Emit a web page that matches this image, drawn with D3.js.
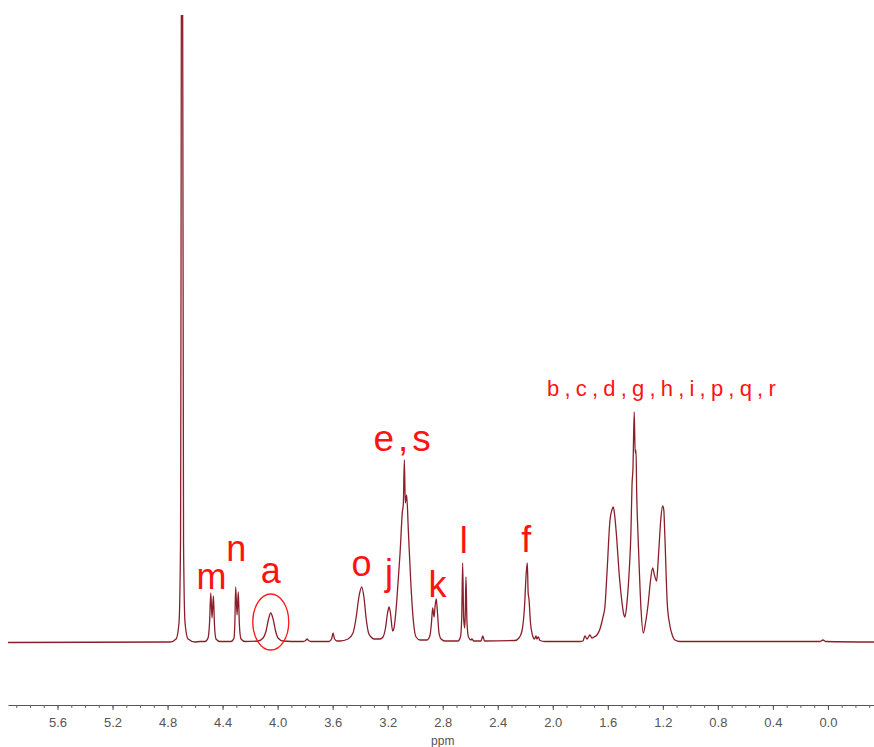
<!DOCTYPE html>
<html>
<head>
<meta charset="utf-8">
<script src="https://cdn.jsdelivr.net/npm/d3@7"></script>
<style>
  body { margin: 0; background: #fff; }
  svg { display: block; }
</style>
</head>
<body>
<script>
// chemical shift (ppm) and signal height
var shift = [
  5.960, 4.782, 4.738, 4.717, 4.706, 4.695, 4.684, 4.673, 4.651, 4.600,
  4.564, 4.528, 4.506, 4.495, 4.486, 4.477, 4.467, 4.459, 4.448, 4.419,
  4.339, 4.317, 4.311, 4.305, 4.295, 4.286, 4.278, 4.266, 4.237,
  4.142, 4.106, 4.084, 4.066, 4.050, 4.033, 4.015, 3.997, 3.961,
  3.837, 3.815, 3.797, 3.786, 3.775, 3.757,
  3.626, 3.608, 3.597, 3.586, 3.568,
  3.547, 3.488, 3.452, 3.430, 3.408, 3.389, 3.372, 3.357, 3.339, 3.321, 3.299,
  3.256, 3.234, 3.216, 3.201, 3.190, 3.180, 3.164,
  3.154, 3.140, 3.125, 3.110, 3.094, 3.086, 3.079, 3.072, 3.062, 3.050, 3.033, 3.014, 2.994, 2.965,
  2.914, 2.892, 2.882, 2.873, 2.863, 2.856, 2.847, 2.838, 2.827, 2.812, 2.783,
  2.689, 2.671, 2.662, 2.655, 2.648, 2.640, 2.636, 2.631, 2.624, 2.613, 2.594, 2.589, 2.573,
  2.522, 2.509, 2.496,
  2.275, 2.246, 2.224, 2.206, 2.193, 2.185, 2.179, 2.173, 2.162, 2.148, 2.133, 2.122, 2.115, 2.105, 2.093, 2.057,
  1.802, 1.781, 1.766, 1.751, 1.730, 1.715, 1.701,
  1.679, 1.657, 1.635, 1.621, 1.606, 1.584, 1.570, 1.560, 1.552, 1.536, 1.519, 1.499, 1.486, 1.475,
  1.461, 1.444, 1.432, 1.424, 1.417, 1.408, 1.401, 1.395, 1.390, 1.381, 1.371, 1.359, 1.342,
  1.326, 1.306, 1.290, 1.274, 1.261, 1.245, 1.235, 1.226, 1.214, 1.201, 1.193, 1.185, 1.168, 1.152, 1.136, 1.112, 1.076,
  0.058, 0.036, 0.015, -0.335
];
var signal = [
  0.5, 1, 4, 20, 100, 1000, 100, 20, 4, 1,
  1.5, 1.5, 5, 20, 50, 25, 47, 18, 4, 1.5,
  1.5, 5, 20, 56, 28, 51, 18, 4, 1.5,
  2, 5, 12, 24, 30, 24, 12, 5, 2,
  1.5, 1.5, 2.5, 4, 2.5, 1.5,
  1.5, 4, 10, 4, 2,
  2, 4, 10, 25, 47, 56, 45, 25, 10, 6, 4,
  4, 6, 15, 30, 36, 30, 12,
  15, 32, 60, 90, 130, 140, 183, 140, 148, 113, 63, 23, 6, 3,
  3, 8, 20, 35, 26, 36, 44, 30, 10, 4, 2,
  2, 6, 25, 80, 25, 15, 30, 66, 22, 6, 3, 4, 2,
  2, 7, 2,
  2.5, 5, 12, 35, 70, 80, 50, 44, 20, 8, 4, 7, 4, 6, 2.5, 1.5,
  1.5, 2, 7, 4, 8, 5, 6,
  8, 14, 26, 36, 70, 123, 133, 136, 130, 106, 72, 43, 30, 26,
  40, 73, 110, 158, 175, 231, 190, 193, 150, 110, 73, 35, 10,
  20, 40, 62, 75, 68, 62, 80, 100, 125, 137, 133, 106, 40, 20, 10, 3, 1.5,
  1.5, 3, 1.5, 1
];

var majorTicks = [5.6, 5.2, 4.8, 4.4, 4.0, 3.6, 3.2, 2.8, 2.4, 2.0, 1.6, 1.2, 0.8, 0.4, 0.0];
var minorTicks = d3.range(59, -4, -1).map(function(v) { return v / 10; });

var peakNames = ["m", "n", "a", "o", "j", "e,s", "k", "l", "f", "b,c,d,g,h,i,p,q,r"];
var peakShift = [4.48, 4.30, 4.05, 3.39, 3.19, 3.08, 2.86, 2.655, 2.185, 1.40];

var width = 874, height = 747;
var svg = d3.select("body").append("svg")
    .attr("width", width)
    .attr("height", height);

var x = d3.scaleLinear().domain([5.96, -0.335]).range([8, 874]);
var y = d3.scaleLinear().domain([0, 628]).range([643, 15]);

svg.append("clipPath").attr("id", "plot")
  .append("rect")
    .attr("x", 0).attr("y", 15)
    .attr("width", width).attr("height", 680);

var pts = shift.map(function(s, i) { return [s, signal[i]]; });
var line = d3.line()
    .x(function(d) { return x(d[0]); })
    .y(function(d) { return y(d[1]); })
    .curve(d3.curveMonotoneX);

svg.append("path")
    .datum(pts)
    .attr("clip-path", "url(#plot)")
    .attr("d", line)
    .attr("fill", "none")
    .attr("stroke", "#8a1f2b")
    .attr("stroke-width", 1.3)
    .attr("stroke-linejoin", "round");

// axis
var minorAxis = d3.axisBottom(x).tickValues(minorTicks).tickSize(3).tickSizeOuter(0).tickFormat("");
var majorAxis = d3.axisBottom(x).tickValues(majorTicks).tickSize(5).tickSizeOuter(0)
    .tickFormat(d3.format(".1f"));

var gMinor = svg.append("g").attr("transform", "translate(0,705)").call(minorAxis);
var gMajor = svg.append("g").attr("transform", "translate(0,705)").call(majorAxis);
gMinor.select(".domain").attr("stroke", "#555");
gMajor.select(".domain").remove();
gMinor.selectAll(".tick line").attr("stroke", "#666");
gMajor.selectAll(".tick line").attr("stroke", "#555");
gMajor.selectAll(".tick text")
    .attr("y", 13)
    .attr("fill", "#555")
    .style("font-family", "Liberation Sans, Arial, sans-serif")
    .style("font-size", "13px");

svg.append("text")
    .attr("x", x(2.8))
    .attr("y", 745)
    .attr("text-anchor", "middle")
    .attr("fill", "#555")
    .style("font-family", "Liberation Sans, Arial, sans-serif")
    .style("font-size", "12px")
    .text("ppm");

// peak assignments
var labelBase = [589, 561, 583, 576, 585, 451, 597, 553, 552, 396];
var labelSize = [36, 36, 36, 36, 36, 37, 36, 36, 36, 22];
var labelGap = [0, 0, 0, 0, 0, 4, 0, 0, 0, 5.2];
var labelNudge = [0, 0, 0, 0, 0, 0, 3, 1, -1, 0];

svg.selectAll("text.peak")
    .data(peakNames)
    .enter().append("text")
    .attr("class", "peak")
    .attr("x", function(d, i) { return i === 9 ? 664 : x(peakShift[i]) + labelNudge[i]; })
    .attr("y", function(d, i) { return labelBase[i]; })
    .attr("text-anchor", "middle")
    .attr("fill", "#ff1212")
    .style("font-family", "Liberation Sans, Arial, sans-serif")
    .style("font-size", function(d, i) { return labelSize[i] + "px"; })
    .style("letter-spacing", function(d, i) { return labelGap[i] + "px"; })
    .text(function(d) { return d; });

svg.append("ellipse")
    .attr("cx", x(peakShift[2]))
    .attr("cy", 622)
    .attr("rx", 18)
    .attr("ry", 28)
    .attr("fill", "none")
    .attr("stroke", "#ff1a1a")
    .attr("stroke-width", 1.3);
</script>
</body>
</html>
